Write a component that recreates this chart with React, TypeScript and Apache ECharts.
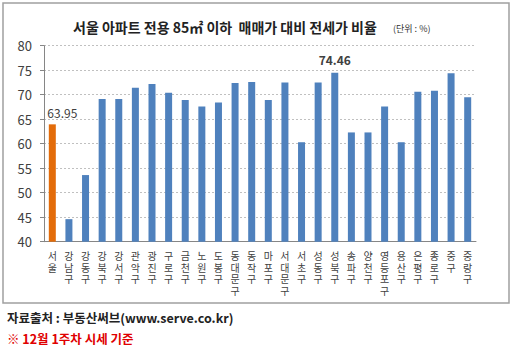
import React, { useEffect, useRef } from "react";
import * as echarts from "echarts";

const categories = [
  "서울", "강남구", "강동구", "강북구", "강서구", "관악구", "광진구", "구로구", "금천구",
  "노원구", "도봉구", "동대문구", "동작구", "마포구", "서대문구", "서초구", "성동구",
  "성북구", "송파구", "양천구", "영등포구", "용산구", "은평구", "종로구", "중구", "중랑구",
];
const values = [
  63.95, 44.6, 53.6, 69.1, 69.1, 71.4, 72.2, 70.4, 68.9,
  67.6, 68.4, 72.4, 72.6, 68.9, 72.5, 60.3, 72.5,
  74.46, 62.3, 62.3, 67.6, 60.3, 70.6, 70.8, 74.4, 69.5,
];
const highlightIndex = 0;
const maxIndex = 17;
const titleMain = "서울 아파트 전용 85㎡ 이하  매매가 대비 전세가 비율";
const titleUnit = "(단위 : %)";
const sourceText = "자료출처 : 부동산써브(www.serve.co.kr)";
const noteText = "※ 12월 1주차 시세 기준";

const FONT = '"Noto Sans CJK KR", "Noto Sans", sans-serif';

export default function App() {
  const ref = useRef<HTMLDivElement>(null);
  useEffect(() => {
    if (!ref.current) return;
    const chart = echarts.init(ref.current, null, { renderer: "svg" });
    const data = values.map((v, i) => ({
      value: v,
      itemStyle: { color: i === highlightIndex ? "#E36C0A" : "#4F81BD" },
      label:
        i === highlightIndex
          ? { show: true, position: "top", distance: 6, offset: [10, 0], fontSize: 12, color: "#404040", fontFamily: FONT, formatter: (p: any) => p.value.toFixed(2) }
          : i === maxIndex
          ? { show: true, position: "top", distance: 7, fontSize: 12, fontWeight: "bold", color: "#404040", fontFamily: FONT, formatter: (p: any) => p.value.toFixed(2) }
          : { show: false },
    }));
    chart.setOption({
      animation: false,
      backgroundColor: "#ffffff",
      textStyle: { fontFamily: FONT },
      grid: { left: 44, right: 36, top: 45.7, bottom: 110.3, containLabel: false },
      xAxis: {
        type: "category",
        data: categories,
        axisLine: { show: true, lineStyle: { color: "#868686", width: 1 } },
        axisTick: { show: false },
        axisLabel: {
          interval: 0,
          margin: 8,
          fontSize: 10,
          lineHeight: 11.7,
          color: "#404040",
          fontFamily: FONT,
          verticalAlign: "top",
          formatter: (v: string) => v.split("").join("\n"),
        },
      },
      yAxis: {
        type: "value",
        min: 40,
        max: 80,
        interval: 5,
        axisLine: { show: true, lineStyle: { color: "#868686", width: 1 } },
        axisTick: { show: true, length: 4, lineStyle: { color: "#868686" } },
        axisLabel: { margin: 12, fontSize: 13, color: "#404040", fontFamily: FONT },
        splitLine: { show: true, lineStyle: { color: "#c0c0c0", type: [2, 2], width: 1 } },
      },
      series: [
        {
          type: "bar",
          data,
          barWidth: 7,
        },
      ],
      graphic: [
        {
          type: "rect",
          shape: { x: 3, y: 3, width: 506, height: 300 },
          style: { fill: "none", stroke: "#a0a0a0", lineWidth: 1.5 },
          silent: true,
        },
        {
          type: "text",
          x: 73,
          y: 27,
          style: { text: titleMain, fontSize: 14, fontWeight: "bold", fill: "#222222", fontFamily: FONT, verticalAlign: "middle" },
        },
        {
          type: "text",
          x: 393,
          y: 28,
          style: { text: titleUnit, fontSize: 9, fill: "#333333", fontFamily: FONT, verticalAlign: "middle" },
        },
        {
          type: "text",
          x: 7,
          y: 317,
          style: { text: sourceText, fontSize: 12.5, fontWeight: "bold", fill: "#222222", fontFamily: FONT, verticalAlign: "middle" },
        },
        {
          type: "text",
          x: 7,
          y: 338,
          style: { text: noteText, fontSize: 12.5, fontWeight: "bold", fill: "#E00000", fontFamily: FONT, verticalAlign: "middle" },
        },
      ],
    });
    return () => chart.dispose();
  }, []);
  return (
    <div
      ref={ref}
      style={{ position: "fixed", left: 0, top: 0, width: 512, height: 352, background: "#fff" }}
    />
  );
}
